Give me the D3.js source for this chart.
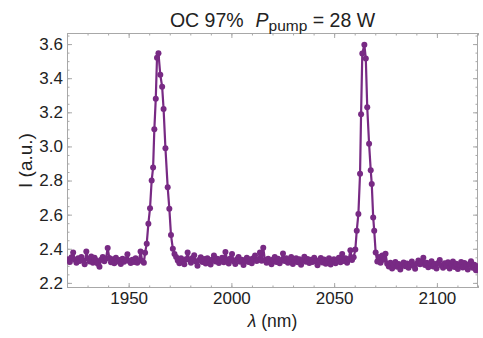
<!DOCTYPE html>
<html>
<head>
<meta charset="utf-8">
<script src="https://cdn.jsdelivr.net/npm/d3@7"></script>
<style>
  html, body { margin: 0; padding: 0; background: #fff; }
  svg { display: block; }
  text { font-family: "Liberation Sans", Arial, sans-serif; }
</style>
</head>
<body>
<svg id="chart" width="483" height="338"></svg>
<script>
// Emission spectrum, output coupler 97 %, pump power 28 W
const wavelength = [
  // baseline below the first line
  1920.6, 1921.4, 1922.2, 1923.0, 1923.8, 1924.6, 1925.4, 1926.2, 1927.0, 1927.8,
  1928.6, 1929.4, 1930.2, 1931.0, 1931.8, 1932.6, 1933.4, 1934.2, 1935.0, 1935.8,
  1936.6, 1937.4, 1938.2, 1939.0, 1939.8, 1940.6, 1941.4, 1942.2, 1943.0, 1943.8,
  1944.6, 1945.4, 1946.2, 1947.0, 1947.8, 1948.6, 1949.4, 1950.2, 1951.0, 1951.8,
  1952.6, 1953.4, 1954.2, 1955.0, 1955.8, 1956.6, 1957.4,
  // first line
  1958.0, 1958.8, 1959.6, 1960.4, 1961.2, 1961.9, 1962.5, 1963.2, 1963.8, 1964.5,
  1965.4, 1966.3, 1967.0, 1967.9, 1969.0, 1969.8, 1970.6, 1971.5, 1972.3,
  // baseline between the lines
  1973.1, 1973.9, 1974.7, 1975.5, 1976.3, 1977.1, 1977.9, 1978.7, 1979.5, 1980.3,
  1981.1, 1981.9, 1982.7, 1983.5, 1984.3, 1985.1, 1985.9, 1986.7, 1987.5, 1988.3,
  1989.1, 1989.9, 1990.7, 1991.5, 1992.3, 1993.1, 1993.9, 1994.7, 1995.5, 1996.3,
  1997.1, 1997.9, 1998.7, 1999.5, 2000.3, 2001.1, 2001.9, 2002.7, 2003.5, 2004.3,
  2005.1, 2005.9, 2006.7, 2007.5, 2008.3, 2009.1, 2009.9, 2010.7, 2011.5, 2012.3,
  2013.1, 2013.9, 2014.7, 2015.5, 2016.3, 2017.1, 2017.9, 2018.7, 2019.5, 2020.3,
  2021.1, 2021.9, 2022.7, 2023.5, 2024.3, 2025.1, 2025.9, 2026.7, 2027.5, 2028.3,
  2029.1, 2029.9, 2030.7, 2031.5, 2032.3, 2033.1, 2033.9, 2034.7, 2035.5, 2036.3,
  2037.1, 2037.9, 2038.7, 2039.5, 2040.3, 2041.1, 2041.9, 2042.7, 2043.5, 2044.3,
  2045.1, 2045.9, 2046.7, 2047.5, 2048.3, 2049.1, 2049.9, 2050.7, 2051.5, 2052.3,
  2053.1, 2053.9, 2054.7, 2055.5, 2056.3, 2057.1, 2057.9, 2058.7, 2059.5,
  // second line
  2060.3, 2061.0, 2061.8, 2062.6, 2063.1, 2063.7, 2064.7, 2065.4, 2066.1, 2067.0,
  2067.8, 2068.3, 2069.0, 2069.5, 2070.2,
  // baseline above the second line
  2071.0, 2071.8, 2072.6, 2073.4, 2074.2, 2075.0, 2075.8, 2076.6, 2077.4, 2078.2,
  2079.0, 2079.8, 2080.6, 2081.4, 2082.2, 2083.0, 2083.8, 2084.6, 2085.4, 2086.2,
  2087.0, 2087.8, 2088.6, 2089.4, 2090.2, 2091.0, 2091.8, 2092.6, 2093.4, 2094.2,
  2095.0, 2095.8, 2096.6, 2097.4, 2098.2, 2099.0, 2099.8, 2100.6, 2101.4, 2102.2,
  2103.0, 2103.8, 2104.6, 2105.4, 2106.2, 2107.0, 2107.8, 2108.6, 2109.4, 2110.2,
  2111.0, 2111.8, 2112.6, 2113.4, 2114.2, 2115.0, 2115.8, 2116.6, 2117.4, 2118.2,
  2119.0, 2119.8
];

const intensity = [
  2.338, 2.322, 2.351, 2.378, 2.336, 2.318, 2.344, 2.329, 2.352, 2.331,
  2.309, 2.384, 2.341, 2.326, 2.355, 2.318, 2.347, 2.332, 2.312, 2.294,
  2.335, 2.352, 2.327, 2.343, 2.405, 2.346, 2.321, 2.339, 2.315, 2.348,
  2.326, 2.334, 2.311, 2.342, 2.324, 2.337, 2.368, 2.329, 2.316, 2.335,
  2.322, 2.345, 2.318, 2.331, 2.384, 2.328, 2.318,

  2.376, 2.430, 2.547, 2.637, 2.800, 2.876, 3.100, 3.280, 3.520, 3.547,
  3.420, 3.350, 3.220, 2.990, 2.760, 2.635, 2.480, 2.400, 2.370,

  2.352, 2.331, 2.315, 2.344, 2.327, 2.309, 2.338, 2.378, 2.335, 2.318,
  2.346, 2.362, 2.326, 2.301, 2.334, 2.351, 2.322, 2.340, 2.313, 2.345,
  2.331, 2.308, 2.337, 2.360, 2.325, 2.342, 2.317, 2.333, 2.348, 2.321,
  2.381, 2.336, 2.314, 2.343, 2.370, 2.327, 2.311, 2.339, 2.352, 2.324,
  2.336, 2.305, 2.331, 2.348, 2.322, 2.339, 2.315, 2.344, 2.361, 2.328,
  2.336, 2.378, 2.330, 2.406, 2.334, 2.318, 2.341, 2.326, 2.309, 2.337,
  2.352, 2.323, 2.341, 2.315, 2.333, 2.372, 2.329, 2.344, 2.318, 2.336,
  2.352, 2.311, 2.327, 2.345, 2.321, 2.338, 2.306, 2.331, 2.353, 2.324,
  2.340, 2.316, 2.335, 2.322, 2.348, 2.327, 2.303, 2.333, 2.346, 2.319,
  2.337, 2.312, 2.330, 2.344, 2.308, 2.326, 2.339, 2.315, 2.332, 2.348,
  2.321, 2.370, 2.329, 2.345, 2.318, 2.338, 2.392, 2.334, 2.350,

  2.395, 2.506, 2.604, 2.840, 3.188, 3.545, 3.596, 3.516, 3.230, 3.016,
  2.860, 2.780, 2.584, 2.506, 2.378,

  2.325, 2.352, 2.318, 2.360, 2.336, 2.371, 2.312, 2.296, 2.318, 2.285,
  2.307, 2.322, 2.294, 2.311, 2.279, 2.303, 2.319, 2.297, 2.314, 2.288,
  2.306, 2.326, 2.301, 2.283, 2.312, 2.331, 2.309, 2.322, 2.348, 2.305,
  2.318, 2.291, 2.313, 2.327, 2.296, 2.310, 2.285, 2.317, 2.334, 2.302,
  2.289, 2.315, 2.299, 2.321, 2.284, 2.308, 2.326, 2.293, 2.312, 2.281,
  2.305, 2.322, 2.290, 2.316, 2.298, 2.279, 2.311, 2.327, 2.289, 2.306,
  2.274, 2.298
];

const xTickValues = [1950, 2000, 2050, 2100];
const yTickValues = [2.2, 2.4, 2.6, 2.8, 3.0, 3.2, 3.4, 3.6];

const yLabel = "I (a.u.)";

const frameColor = "#a8a8a8";
const textColor = "#222";
const seriesColor = "#782a84";

const svg = d3.select("#chart");
const plot = { left: 67, right: 478, top: 33, bottom: 288 };

const x = d3.scaleLinear().domain([1920, 2120]).range([plot.left, plot.right]);
const y = d3.scaleLinear().domain([2.17, 3.665]).range([plot.bottom, plot.top]);

const n = Math.min(wavelength.length, intensity.length);
const points = d3.range(n).map(i => ({ w: wavelength[i], v: intensity[i] }));

// frame axes: major ticks with labels, minor ticks, mirrored on top/right
function styleAxis(g) {
  g.select(".domain").remove();
  g.selectAll(".tick line").attr("stroke", frameColor).attr("stroke-width", 1);
  g.selectAll(".tick text")
    .attr("fill", textColor)
    .style("font-family", '"Liberation Sans", Arial, sans-serif')
    .style("font-size", "17px");
}

const xMinor = x.ticks(20);
const yMinor = y.ticks(30);

svg.append("g").attr("transform", `translate(0,${plot.bottom})`)
  .call(d3.axisBottom(x).tickValues(xMinor).tickSize(-2.5).tickFormat(""))
  .call(styleAxis);
svg.append("g").attr("transform", `translate(0,${plot.bottom})`)
  .call(d3.axisBottom(x).tickValues(xTickValues).tickSize(-5).tickPadding(4)
    .tickFormat(d3.format("d")))
  .call(styleAxis);
svg.append("g").attr("transform", `translate(0,${plot.top})`)
  .call(d3.axisTop(x).tickValues(xMinor).tickSize(-2.5).tickFormat(""))
  .call(styleAxis);
svg.append("g").attr("transform", `translate(0,${plot.top})`)
  .call(d3.axisTop(x).tickValues(xTickValues).tickSize(-5).tickFormat(""))
  .call(styleAxis);

svg.append("g").attr("transform", `translate(${plot.left},0)`)
  .call(d3.axisLeft(y).tickValues(yMinor).tickSize(-2.5).tickFormat(""))
  .call(styleAxis);
svg.append("g").attr("transform", `translate(${plot.left},0)`)
  .call(d3.axisLeft(y).tickValues(yTickValues).tickSize(-5).tickPadding(4)
    .tickFormat(d3.format(".1f")))
  .call(styleAxis);
svg.append("g").attr("transform", `translate(${plot.right},0)`)
  .call(d3.axisRight(y).tickValues(yMinor).tickSize(-2.5).tickFormat(""))
  .call(styleAxis);
svg.append("g").attr("transform", `translate(${plot.right},0)`)
  .call(d3.axisRight(y).tickValues(yTickValues).tickSize(-5).tickFormat(""))
  .call(styleAxis);

svg.append("rect")
  .attr("x", plot.left + 0.5).attr("y", plot.top + 0.5)
  .attr("width", plot.right - plot.left - 1).attr("height", plot.bottom - plot.top - 1)
  .attr("fill", "none").attr("stroke", frameColor).attr("stroke-width", 1);

// data: joined points
svg.append("clipPath").attr("id", "plot-clip")
  .append("rect")
  .attr("x", plot.left).attr("y", plot.top)
  .attr("width", plot.right - plot.left).attr("height", plot.bottom - plot.top);

const series = svg.append("g").attr("clip-path", "url(#plot-clip)");

series.append("path")
  .datum(points)
  .attr("fill", "none")
  .attr("stroke", seriesColor)
  .attr("stroke-width", 2.2)
  .attr("stroke-linejoin", "round")
  .attr("d", d3.line().x(d => x(d.w)).y(d => y(d.v)));

series.selectAll("circle")
  .data(points)
  .join("circle")
  .attr("cx", d => x(d.w))
  .attr("cy", d => y(d.v))
  .attr("r", 3)
  .attr("fill", seriesColor);

// title with subscripted pump power symbol
const title = svg.append("text")
  .attr("x", (plot.left + plot.right) / 2)
  .attr("y", 27)
  .attr("text-anchor", "middle")
  .attr("fill", textColor)
  .style("font-size", "19.5px");
title.append("tspan").text("OC 97%");
title.append("tspan").attr("dx", 12).style("font-style", "italic").text("P");
title.append("tspan").attr("dy", 4).style("font-size", "15.5px").text("pump");
title.append("tspan").attr("dy", -4).text(" = 28 W");

// axis titles
const xTitle = svg.append("text")
  .attr("x", (plot.left + plot.right) / 2)
  .attr("y", 327)
  .attr("text-anchor", "middle")
  .attr("fill", textColor)
  .style("font-size", "17.5px");
xTitle.append("tspan").style("font-style", "italic").text("λ");
xTitle.append("tspan").text(" (nm)");

svg.append("text")
  .attr("transform", `translate(32,${(plot.top + plot.bottom) / 2}) rotate(-90)`)
  .attr("text-anchor", "middle")
  .attr("fill", textColor)
  .style("font-size", "19px")
  .text(yLabel);
</script>
</body>
</html>
